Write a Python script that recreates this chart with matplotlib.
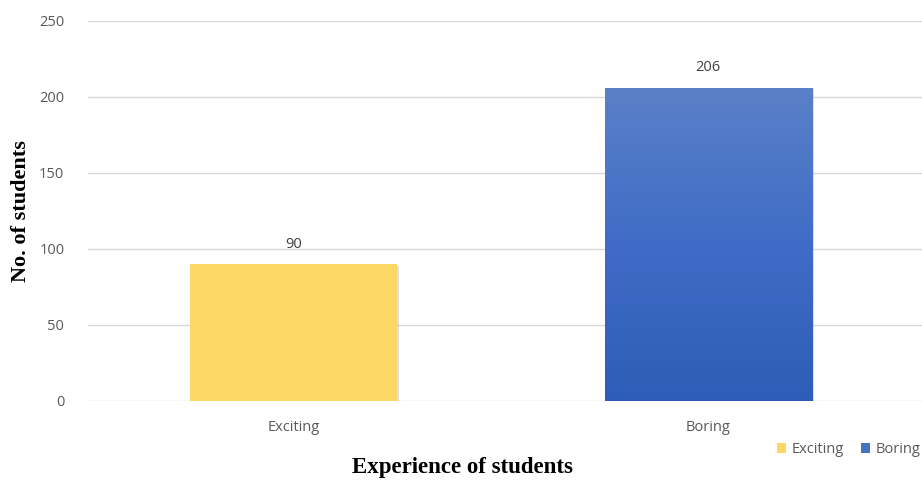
import matplotlib
matplotlib.use("Agg")
import matplotlib.pyplot as plt
import numpy as np
from matplotlib.patches import Patch
import matplotlib.patheffects as pe
from matplotlib.colors import LinearSegmentedColormap

categories = ["Exciting", "Boring"]
values = [90, 206]
colors = ["#FDD764", "#4472C4"]
yticks = [0, 50, 100, 150, 200, 250]

fig = plt.figure(figsize=(9.22, 4.8), dpi=100)
ax = fig.add_axes([0.0954, 0.1646, 0.9046, 0.7917])

x = np.arange(len(categories))
bars = ax.bar(x, values, width=0.5, color=colors, zorder=3,
              path_effects=[pe.SimplePatchShadow(offset=(1.5, -1), shadow_rgbFace="#999999", alpha=0.3), pe.Normal()])

# gradient for Boring bar
b = bars[1]
grad = np.linspace(0, 1, 256).reshape(-1, 1)
cmap = LinearSegmentedColormap.from_list("g", ["#2D5DB6", "#3F6CC6", "#5B80C8"])
im = ax.imshow(grad, cmap=cmap, aspect="auto", origin="lower",
               extent=[b.get_x(), b.get_x() + b.get_width(), 0, b.get_height()], zorder=4)
im.set_clip_path(b)

ax.set_xlim(-0.495, 1.515)
ax.set_ylim(0, 250)
ax.set_yticks(yticks)
ax.set_xticks(x)
ax.set_xticklabels(categories)
ax.yaxis.grid(True, color="#D9D9D9", linewidth=1, zorder=0)
ax.set_axisbelow(True)
for s in ax.spines.values():
    s.set_visible(False)
ax.tick_params(axis="both", length=0, labelsize=10.5, labelcolor="#595959")
ax.tick_params(axis="y", pad=17)
ax.tick_params(axis="x", pad=14)
for lbl in ax.get_xticklabels() + ax.get_yticklabels():
    lbl.set_family("Open Sans")

for xi, v in zip(x, values):
    ax.annotate(str(v), (xi, v), xytext=(0, 9), textcoords="offset points",
                ha="center", va="bottom", fontsize=10.5, color="#404040", family="Open Sans")

fig.text(0.023, 0.56, "No. of students", rotation=90, ha="center", va="center",
         family="Liberation Serif", fontweight="bold", fontsize=16)
fig.text(0.502, 0.027, "Experience of students", ha="center", va="center",
         family="Liberation Serif", fontweight="bold", fontsize=16.5)

handles = [Patch(facecolor=colors[0]), Patch(facecolor=colors[1])]
leg = fig.legend(handles, categories, loc="center right", bbox_to_anchor=(1.013, 0.063),
                 ncol=2, frameon=False, handlelength=0.6, handleheight=0.6,
                 handletextpad=0.4, columnspacing=1.2, prop={"family": "Open Sans", "size": 10.5})
for t in leg.get_texts():
    t.set_color("#595959")

fig.savefig("out.png", dpi=100)
